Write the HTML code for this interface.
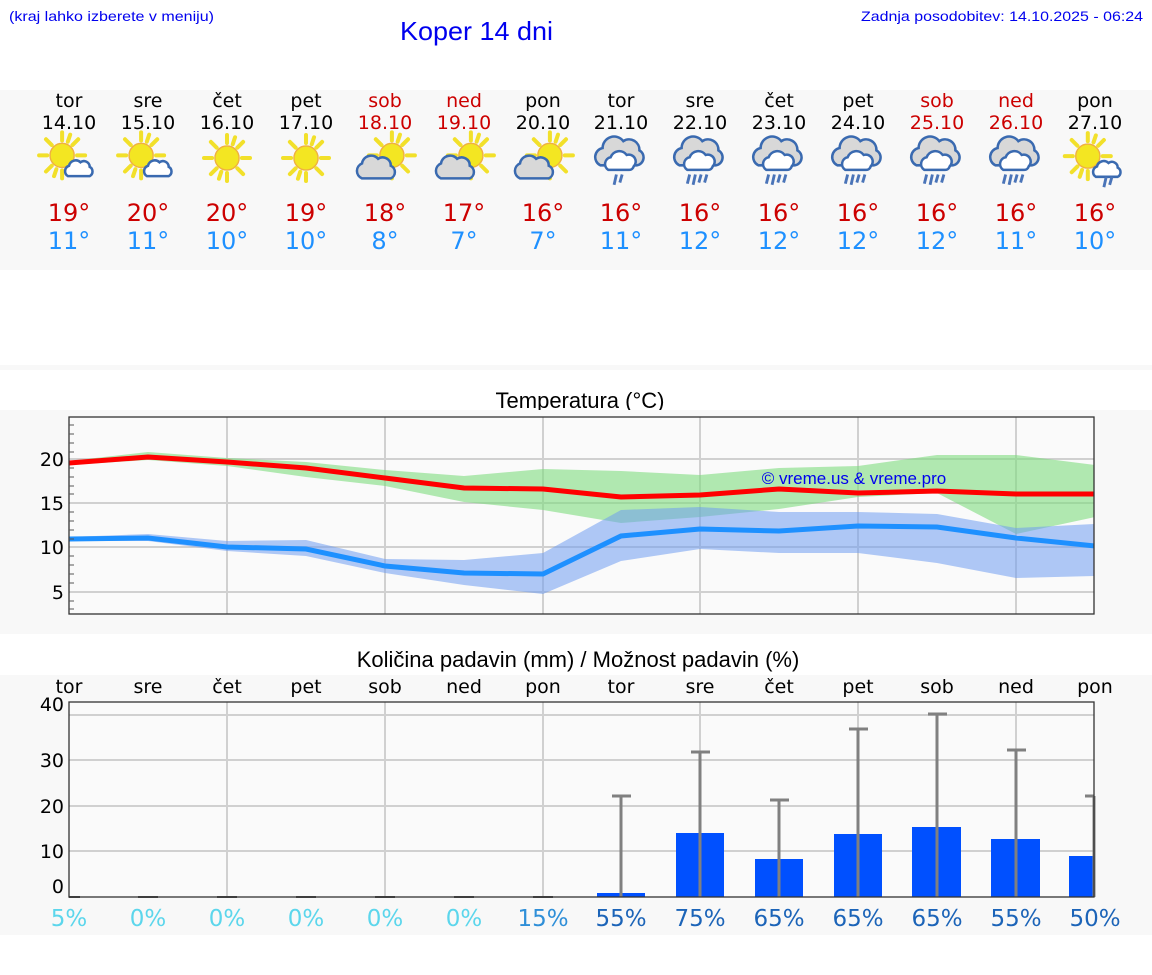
<!DOCTYPE html>
<html><head><meta charset="utf-8"><style>
html,body{margin:0;padding:0;background:#fff;}
svg{display:block;}
</style></head><body>
<svg width="1152" height="975" viewBox="0 0 1152 975" xmlns="http://www.w3.org/2000/svg" font-family="DejaVu Sans, sans-serif">
<defs>
<g id="sun">
 <g stroke="#f2e02a" stroke-width="3.5" stroke-linecap="round">
  <line x1="0" y1="-13" x2="0" y2="-20"/><line x1="0" y1="13" x2="0" y2="20"/>
  <line x1="-13" y1="0" x2="-20" y2="0"/><line x1="13" y1="0" x2="20" y2="0"/>
  <line x1="9" y1="-9" x2="14" y2="-14"/><line x1="-9" y1="-9" x2="-14" y2="-14"/>
  <line x1="9" y1="9" x2="14" y2="14"/><line x1="-9" y1="9" x2="-14" y2="14"/>
  <line x1="5" y1="-12" x2="7" y2="-18"/><line x1="-5" y1="12" x2="-7" y2="18"/>
 </g>
 <circle r="10.5" fill="#f3e622" stroke="#f0b040" stroke-width="1.2"/>
</g>
<g id="cloudS">
 <path d="M-11,8 a5,5 0 0 1 1,-9 a6,6 0 0 1 10,-3 a5,5 0 0 1 8,4 a4.5,4.5 0 0 1 0,8 z" fill="#fff" stroke="#3a6ab0" stroke-width="2.2"/>
</g>
<g id="cloudG">
 <path d="M-14,10 a7,7 0 0 1 0,-13 a8,8 0 0 1 14,-4 a7,7 0 0 1 11,6 a6,6 0 0 1 0,11 z" fill="#d8d8d8" stroke="#3a6ab0" stroke-width="2.2"/>
</g>
<g id="rainCloud">
 <path d="M-18,6 a8,8 0 0 1 2,-15 a10,10 0 0 1 18,-6 a9,9 0 0 1 14,8 a7,7 0 0 1 -2,13 z" fill="#d8d8d8" stroke="#3a6ab0" stroke-width="2.2"/>
 <path d="M-11,10 a6,6 0 0 1 2,-11 a8,8 0 0 1 14,-2 a6,6 0 0 1 6,10 a4,4 0 0 1 -4,3 z" fill="#fff" stroke="#3a6ab0" stroke-width="2.2"/>
</g>
<g id="r2" stroke="#4a74b8" stroke-width="2.5"><line x1="-4" y1="14" x2="-6" y2="23"/><line x1="1" y1="14" x2="-1" y2="21"/></g>
<g id="r4" stroke="#4a74b8" stroke-width="2.5"><line x1="-9" y1="14" x2="-11" y2="22"/><line x1="-4" y1="14" x2="-6" y2="23"/><line x1="1" y1="14" x2="-1" y2="21"/><line x1="6" y1="14" x2="4" y2="21"/></g>
<g id="iA"><use href="#sun" x="-6" y="-4"/><use href="#cloudS" x="10" y="6"/></g>
<g id="iB"><use href="#sun" x="0" y="0"/></g>
<g id="iC"><use href="#sun" x="6" y="-4"/><use href="#cloudG" x="-6" y="6"/></g>
<g id="iD"><use href="#rainCloud" x="0" y="-4"/><use href="#r2" x="0" y="-4"/></g>
<g id="iE"><use href="#rainCloud" x="0" y="-4"/><use href="#r4" x="0" y="-4"/></g>
<g id="iF"><use href="#sun" x="-8" y="-6"/><use href="#cloudS" x="10" y="4"/><use href="#r2" x="12" y="-2"/></g>
</defs>

<!-- header -->
<g font-family="Liberation Sans Narrow, Liberation Sans, sans-serif" fill="#0000ee">
<text x="9" y="21" font-size="14" textLength="205" lengthAdjust="spacingAndGlyphs">(kraj lahko izberete v meniju)</text>
<text x="400" y="40" font-size="26" textLength="153" lengthAdjust="spacingAndGlyphs">Koper 14 dni</text>
<text x="861" y="21" font-size="14" textLength="282" lengthAdjust="spacingAndGlyphs">Zadnja posodobitev: 14.10.2025 - 06:24</text>
</g>

<!-- forecast panel -->
<rect x="0" y="90" width="1152" height="180" fill="#f8f8f8"/>
<rect x="0" y="365" width="1152" height="5" fill="#f8f8f8"/>
<g font-size="19" text-anchor="middle">
<text x="69" y="107">tor</text><text x="148" y="107">sre</text><text x="227" y="107">čet</text><text x="306" y="107">pet</text>
<text x="385" y="107" fill="#cc0000">sob</text><text x="464" y="107" fill="#cc0000">ned</text><text x="543" y="107">pon</text>
<text x="621" y="107">tor</text><text x="700" y="107">sre</text><text x="779" y="107">čet</text><text x="858" y="107">pet</text>
<text x="937" y="107" fill="#cc0000">sob</text><text x="1016" y="107" fill="#cc0000">ned</text><text x="1095" y="107">pon</text>
<text x="69" y="129">14.10</text><text x="148" y="129">15.10</text><text x="227" y="129">16.10</text><text x="306" y="129">17.10</text>
<text x="385" y="129" fill="#cc0000">18.10</text><text x="464" y="129" fill="#cc0000">19.10</text><text x="543" y="129">20.10</text>
<text x="621" y="129">21.10</text><text x="700" y="129">22.10</text><text x="779" y="129">23.10</text><text x="858" y="129">24.10</text>
<text x="937" y="129" fill="#cc0000">25.10</text><text x="1016" y="129" fill="#cc0000">26.10</text><text x="1095" y="129">27.10</text>
</g>
<use href="#iA" transform="translate(69,160) scale(1.15)"/><use href="#iA" transform="translate(148,160) scale(1.15)"/>
<use href="#iB" transform="translate(227,158) scale(1.15)"/><use href="#iB" transform="translate(306,158) scale(1.15)"/>
<use href="#iC" transform="translate(385,160) scale(1.15)"/><use href="#iC" transform="translate(464,160) scale(1.15)"/><use href="#iC" transform="translate(543,160) scale(1.15)"/>
<use href="#iD" transform="translate(621,163) scale(1.15)"/><use href="#iE" transform="translate(700,163) scale(1.15)"/>
<use href="#iE" transform="translate(779,163) scale(1.15)"/><use href="#iE" transform="translate(858,163) scale(1.15)"/>
<use href="#iE" transform="translate(937,163) scale(1.15)"/><use href="#iE" transform="translate(1016,163) scale(1.15)"/>
<use href="#iF" transform="translate(1097,163) scale(1.15)"/>
<g font-size="24" text-anchor="middle" fill="#cc0000">
<text x="69" y="221">19°</text><text x="148" y="221">20°</text><text x="227" y="221">20°</text><text x="306" y="221">19°</text>
<text x="385" y="221">18°</text><text x="464" y="221">17°</text><text x="543" y="221">16°</text><text x="621" y="221">16°</text>
<text x="700" y="221">16°</text><text x="779" y="221">16°</text><text x="858" y="221">16°</text><text x="937" y="221">16°</text>
<text x="1016" y="221">16°</text><text x="1095" y="221">16°</text>
</g>
<g font-size="24" text-anchor="middle" fill="#1e90ff">
<text x="69" y="249">11°</text><text x="148" y="249">11°</text><text x="227" y="249">10°</text><text x="306" y="249">10°</text>
<text x="385" y="249">8°</text><text x="464" y="249">7°</text><text x="543" y="249">7°</text><text x="621" y="249">11°</text>
<text x="700" y="249">12°</text><text x="779" y="249">12°</text><text x="858" y="249">12°</text><text x="937" y="249">12°</text>
<text x="1016" y="249">11°</text><text x="1095" y="249">10°</text>
</g>

<!-- temperature chart -->
<text x="580" y="408" font-family="Liberation Sans, sans-serif" font-size="22" text-anchor="middle">Temperatura (°C)</text>
<rect x="0" y="410" width="1152" height="224" fill="#f8f8f8"/>
<rect x="69" y="417" width="1025" height="197" fill="#fafafa"/>
<g stroke="#d0d0d0" stroke-width="2">
<line x1="69" y1="459" x2="1094" y2="459"/><line x1="69" y1="503" x2="1094" y2="503"/><line x1="69" y1="547" x2="1094" y2="547"/><line x1="69" y1="592" x2="1094" y2="592"/>
<line x1="227" y1="417" x2="227" y2="614"/><line x1="385" y1="417" x2="385" y2="614"/><line x1="543" y1="417" x2="543" y2="614"/>
<line x1="700" y1="417" x2="700" y2="614"/><line x1="858" y1="417" x2="858" y2="614"/><line x1="1016" y1="417" x2="1016" y2="614"/>
</g>
<svg x="69" y="417" width="1025" height="197" viewBox="69 417 1025 197" overflow="hidden">
<polygon fill="#7fdc7f" fill-opacity="0.6" points="69,461 148,452 227,458 306,462 385,470 464,476 543,469 621,471 700,475 779,468 858,466 937,455 1016,455 1095,465 1095,517 1016,534 937,493 858,497 779,509 700,517 621,523 543,510 464,502 385,486 306,477 227,466 148,460 69,465"/>
<polygon fill="#6f9cf0" fill-opacity="0.55" points="69,537 148,534 227,541 306,540 385,559 464,560 543,553 621,510 700,507 779,512 858,512 937,514 1016,528 1095,524 1095,576 1016,578 937,563 858,553 779,553 700,549 621,561 543,594 464,585 385,573 306,556 227,551 148,541 69,541"/>
<polyline fill="none" stroke="#ff0000" stroke-width="5" points="69,463 148,457 227,462 306,468 385,478 464,488 543,489 621,497 700,495 779,489 858,493 937,491 1016,494 1095,494"/>
<polyline fill="none" stroke="#1e90ff" stroke-width="5" points="69,539 148,538 227,547 306,549 385,566 464,573 543,574 621,536 700,529 779,531 858,526 937,527 1016,538 1095,546"/>
</svg>
<text x="854" y="484" font-family="Liberation Sans, sans-serif" font-size="17" fill="#0000ee" text-anchor="middle">© vreme.us &amp; vreme.pro</text>
<rect x="69" y="417" width="1025" height="197" fill="none" stroke="#333" stroke-width="1.3"/>
<g stroke="#555" stroke-width="1">
<line x1="69" y1="425" x2="74" y2="425"/><line x1="69" y1="434" x2="74" y2="434"/><line x1="69" y1="443" x2="74" y2="443"/><line x1="69" y1="452" x2="74" y2="452"/>
<line x1="69" y1="468" x2="74" y2="468"/><line x1="69" y1="477" x2="74" y2="477"/><line x1="69" y1="486" x2="74" y2="486"/><line x1="69" y1="494" x2="74" y2="494"/>
<line x1="69" y1="512" x2="74" y2="512"/><line x1="69" y1="521" x2="74" y2="521"/><line x1="69" y1="530" x2="74" y2="530"/><line x1="69" y1="539" x2="74" y2="539"/>
<line x1="69" y1="556" x2="74" y2="556"/><line x1="69" y1="565" x2="74" y2="565"/><line x1="69" y1="574" x2="74" y2="574"/><line x1="69" y1="583" x2="74" y2="583"/>
<line x1="69" y1="601" x2="74" y2="601"/><line x1="69" y1="609" x2="74" y2="609"/>
</g>
<g font-size="19" text-anchor="end">
<text x="64" y="466">20</text><text x="64" y="510">15</text><text x="64" y="554">10</text><text x="64" y="599">5</text>
</g>

<!-- precipitation chart -->
<text x="578" y="667" font-family="Liberation Sans, sans-serif" font-size="22" text-anchor="middle">Količina padavin (mm) / Možnost padavin (%)</text>
<rect x="0" y="675" width="1152" height="260" fill="#f8f8f8"/>
<rect x="69" y="702" width="1025" height="195" fill="#fafafa"/>
<g stroke="#d0d0d0" stroke-width="2">
<line x1="69" y1="715" x2="1094" y2="715"/><line x1="69" y1="760" x2="1094" y2="760"/><line x1="69" y1="806" x2="1094" y2="806"/><line x1="69" y1="851" x2="1094" y2="851"/>
<line x1="227" y1="702" x2="227" y2="897"/><line x1="385" y1="702" x2="385" y2="897"/><line x1="543" y1="702" x2="543" y2="897"/>
<line x1="700" y1="702" x2="700" y2="897"/><line x1="858" y1="702" x2="858" y2="897"/><line x1="1016" y1="702" x2="1016" y2="897"/>
</g>
<g font-size="19" text-anchor="middle">
<text x="69" y="693">tor</text><text x="148" y="693">sre</text><text x="227" y="693">čet</text><text x="306" y="693">pet</text>
<text x="385" y="693">sob</text><text x="464" y="693">ned</text><text x="543" y="693">pon</text><text x="621" y="693">tor</text>
<text x="700" y="693">sre</text><text x="779" y="693">čet</text><text x="858" y="693">pet</text><text x="937" y="693">sob</text>
<text x="1016" y="693">ned</text><text x="1095" y="693">pon</text>
</g>
<g font-size="19" text-anchor="end">
<text x="64" y="711">40</text><text x="64" y="767">30</text><text x="64" y="813">20</text><text x="64" y="858">10</text><text x="64" y="893">0</text>
</g>
<g fill="#0050ff">
<rect x="597" y="893" width="48" height="4"/><rect x="676" y="833" width="48" height="64"/><rect x="755" y="859" width="48" height="38"/>
<rect x="834" y="834" width="48" height="63"/><rect x="912" y="827" width="49" height="70"/><rect x="991" y="839" width="49" height="58"/>
<rect x="1069" y="856" width="25" height="41"/>
</g>
<g stroke="#555" stroke-width="2">
<line x1="69" y1="897" x2="80" y2="897"/><line x1="138" y1="897" x2="158" y2="897"/><line x1="217" y1="897" x2="237" y2="897"/>
<line x1="296" y1="897" x2="316" y2="897"/><line x1="375" y1="897" x2="395" y2="897"/><line x1="454" y1="897" x2="474" y2="897"/><line x1="533" y1="897" x2="553" y2="897"/>
</g>
<g stroke="#808080" stroke-width="3">
<line x1="621" y1="796" x2="621" y2="897"/><line x1="612" y1="796" x2="631" y2="796"/>
<line x1="700" y1="752" x2="700" y2="897"/><line x1="691" y1="752" x2="710" y2="752"/>
<line x1="779" y1="800" x2="779" y2="897"/><line x1="770" y1="800" x2="789" y2="800"/>
<line x1="858" y1="729" x2="858" y2="897"/><line x1="849" y1="729" x2="868" y2="729"/>
<line x1="937" y1="714" x2="937" y2="897"/><line x1="928" y1="714" x2="947" y2="714"/>
<line x1="1016" y1="750" x2="1016" y2="897"/><line x1="1007" y1="750" x2="1026" y2="750"/>
<line x1="1094" y1="796" x2="1094" y2="897"/><line x1="1085" y1="796" x2="1094" y2="796"/>
</g>
<rect x="69" y="702" width="1025" height="195" fill="none" stroke="#333" stroke-width="1.3"/>
<g font-size="23" text-anchor="middle">
<text x="69" y="926" fill="#5cd6ec">5%</text><text x="148" y="926" fill="#5cd6ec">0%</text><text x="227" y="926" fill="#5cd6ec">0%</text>
<text x="306" y="926" fill="#5cd6ec">0%</text><text x="385" y="926" fill="#5cd6ec">0%</text><text x="464" y="926" fill="#5cd6ec">0%</text>
<text x="543" y="926" fill="#2f8fd8">15%</text>
<g fill="#1c64b8"><text x="621" y="926">55%</text><text x="700" y="926">75%</text><text x="779" y="926">65%</text><text x="858" y="926">65%</text>
<text x="937" y="926">65%</text><text x="1016" y="926">55%</text><text x="1095" y="926">50%</text></g>
</g>
</svg>
</body></html>
